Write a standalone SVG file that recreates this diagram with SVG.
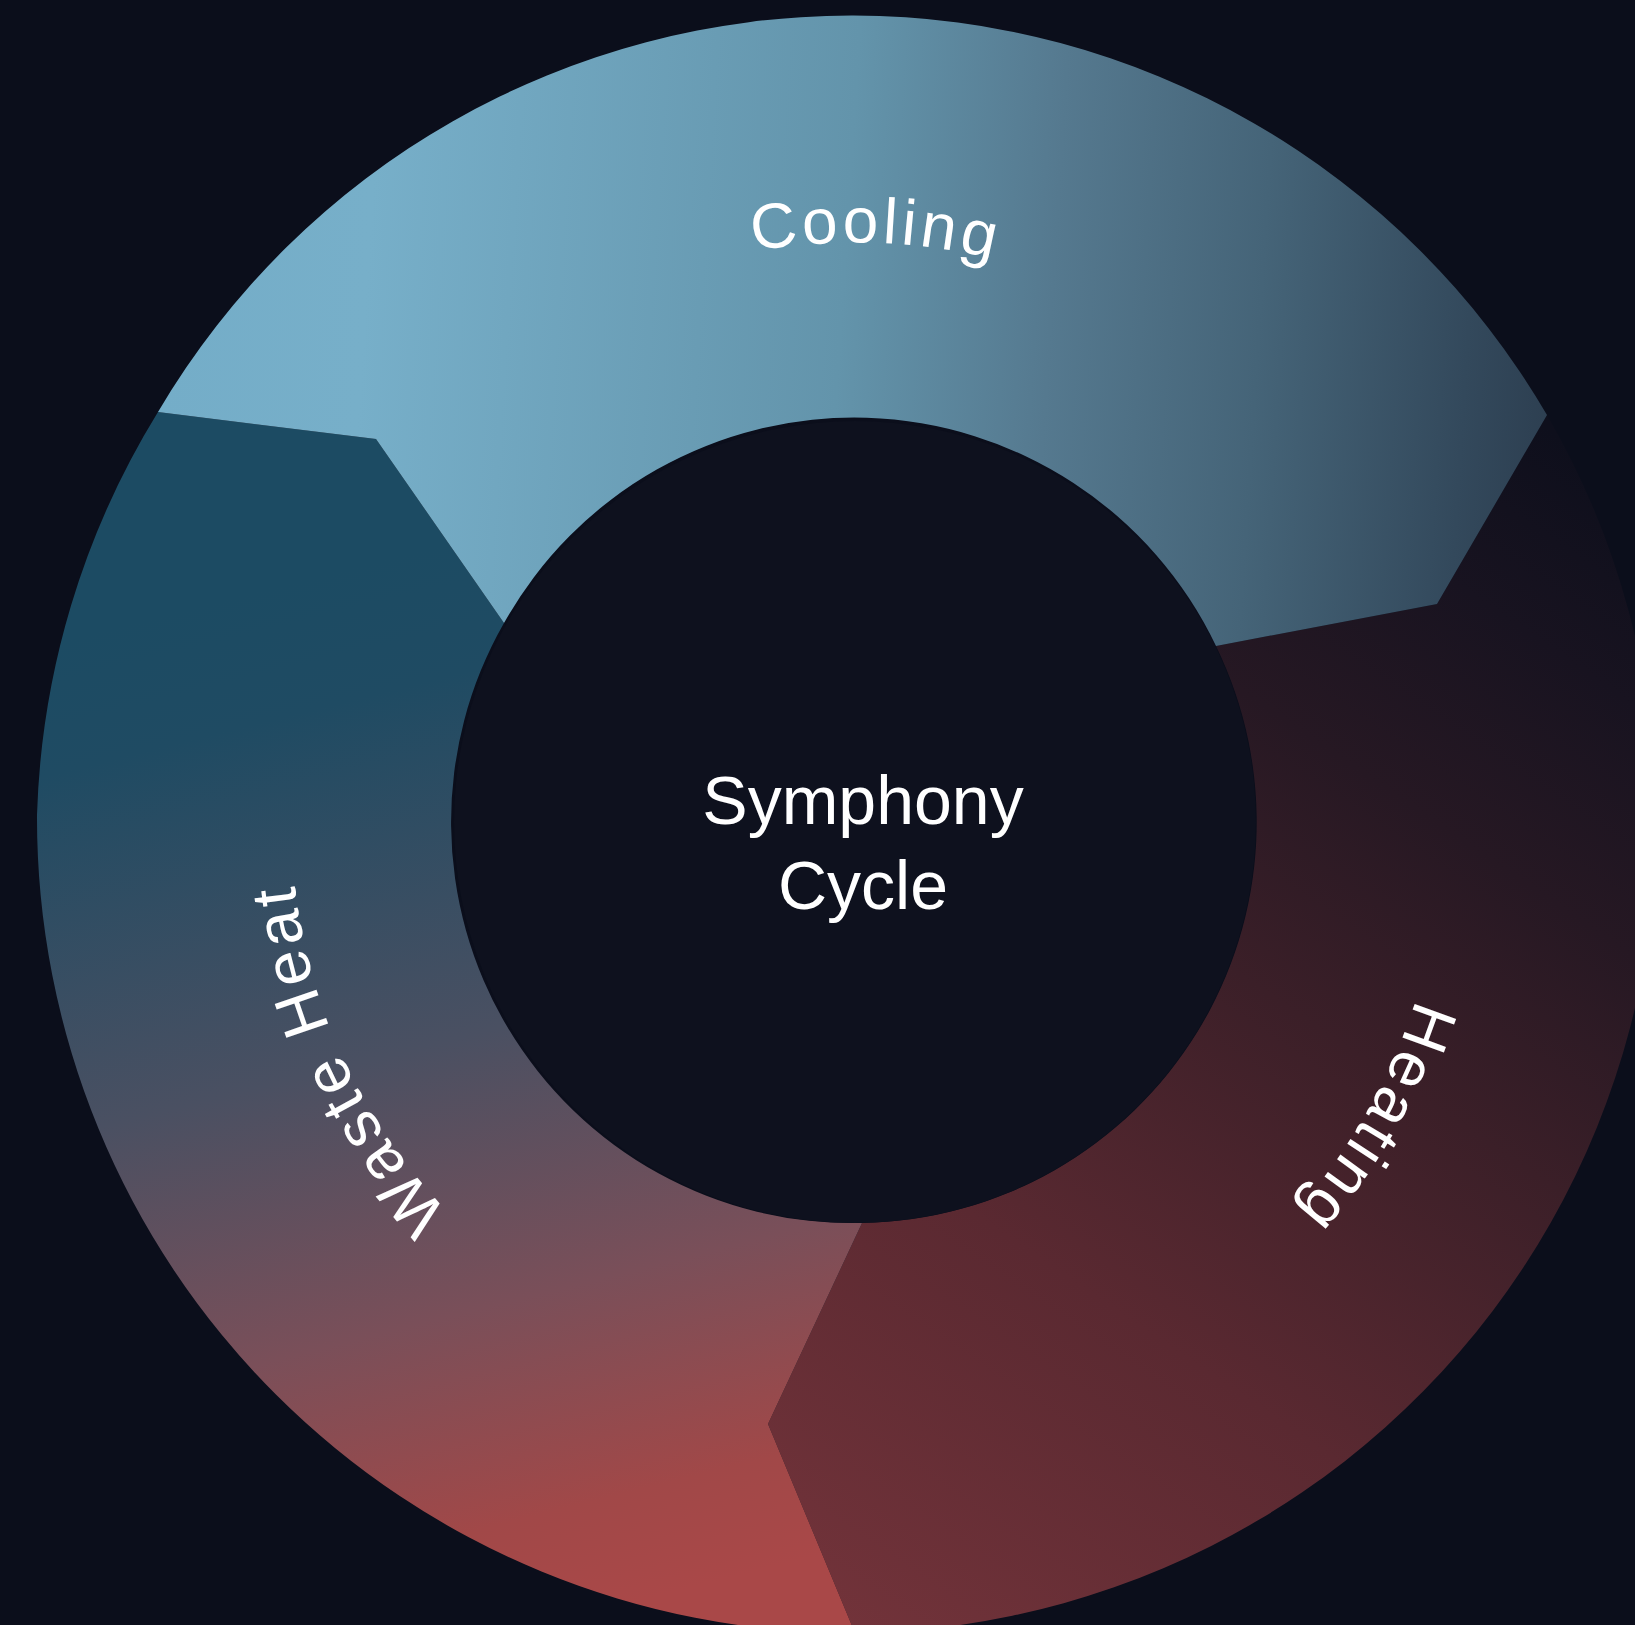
<svg xmlns="http://www.w3.org/2000/svg" width="1635" height="1625" viewBox="0 0 1635 1625">
  <style>
    .label { font-family: "Liberation Sans", Arial, sans-serif; font-size: 64px; fill: #ffffff; letter-spacing: 4px; }
    .center { font-family: "Liberation Sans", Arial, sans-serif; font-size: 68px; fill: #ffffff; text-anchor: middle; }
  </style>
  <defs>
    <linearGradient id="gCool" gradientUnits="userSpaceOnUse" x1="158" y1="380" x2="1547" y2="470">
      <stop offset="0" stop-color="#74adc8"/>
      <stop offset="0.145" stop-color="#77afc9"/>
      <stop offset="0.487" stop-color="#6394ab"/>
      <stop offset="0.637" stop-color="#55798f"/>
      <stop offset="0.787" stop-color="#456478"/>
      <stop offset="0.937" stop-color="#33495c"/>
      <stop offset="1" stop-color="#2d3f51"/>
    </linearGradient>
    <linearGradient id="gWaste" gradientUnits="userSpaceOnUse" x1="300" y1="580" x2="560" y2="1620">
      <stop offset="0" stop-color="#1c4b63"/>
      <stop offset="0.12" stop-color="#1f4b63"/>
      <stop offset="0.45" stop-color="#4a5062"/>
      <stop offset="0.7" stop-color="#7a4f59"/>
      <stop offset="0.9" stop-color="#a14848"/>
      <stop offset="1" stop-color="#a94848"/>
    </linearGradient>
    <linearGradient id="gHeat" gradientUnits="userSpaceOnUse" x1="800" y1="1600" x2="1580" y2="450">
      <stop offset="0" stop-color="#72333a"/>
      <stop offset="0.3" stop-color="#5a2931"/>
      <stop offset="0.55" stop-color="#3b1f28"/>
      <stop offset="0.72" stop-color="#261823"/>
      <stop offset="0.87" stop-color="#181320"/>
      <stop offset="1" stop-color="#0e0f1c"/>
    </linearGradient>
    <path id="pCool" d="M 275.8 791.6 A 580 580 0 0 1 1434.9 832.1"/>
    <path id="pWaste" d="M 1085.2 1339.0 A 566 566 0 0 1 606.9 313.3"/>
    <path id="pHeat" d="M 1155.3 314.2 A 590 590 0 0 1 572.6 1340.0"/>
  </defs>

  <rect x="0" y="0" width="1635" height="1625" fill="#0b0e1b"/>

  <g id="node-heating">
    <path d="M 1547 415 A 811 811 0 0 1 855 1633 L 768 1424 L 862 1223 A 401 401 0 0 0 1216 646 L 1437 604 Z" fill="url(#gHeat)"/>
  </g>
  <g id="node-waste-heat">
    <path d="M 855 1633 A 815 815 0 0 1 37 815 A 815 815 0 0 1 158 412 L 376 439 L 504 623 A 401 401 0 0 0 862 1223 L 768 1424 Z" fill="url(#gWaste)"/>
  </g>
  <g id="node-cooling">
    <path d="M 158 412 A 805 805 0 0 1 1547 415 L 1437 604 L 1216 646 A 401 401 0 0 0 504 623 L 376 439 Z" fill="url(#gCool)"/>
  </g>

  <g id="node-center">
    <circle cx="855" cy="822" r="401" fill="#0e111e"/>
    <text class="center" x="863" y="824">Symphony</text>
    <text class="center" x="863" y="909">Cycle</text>
  </g>

  <g id="labels">
    <text class="label"><textPath href="#pCool" startOffset="50%" text-anchor="middle">Cooling</textPath></text>
    <text class="label"><textPath href="#pWaste" startOffset="50%" text-anchor="middle">Waste Heat</textPath></text>
    <text class="label"><textPath href="#pHeat" startOffset="50%" text-anchor="middle">Heating</textPath></text>
  </g>
</svg>
